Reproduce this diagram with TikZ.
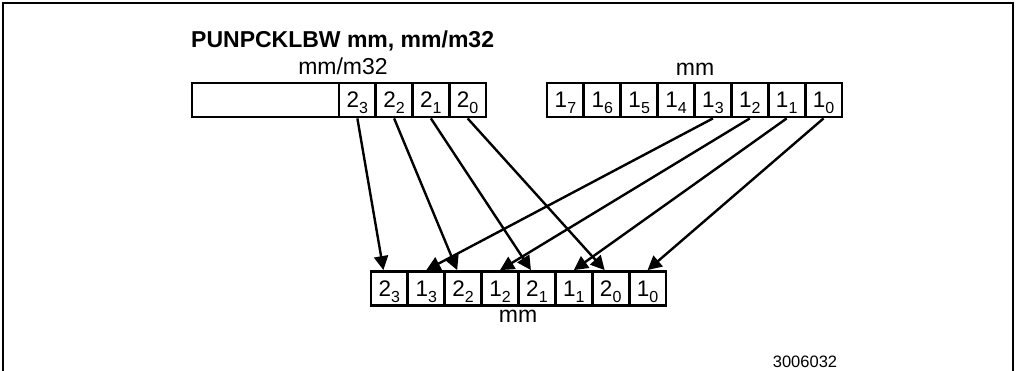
\documentclass[tikz,border=0pt]{standalone}
\usepackage{fontspec}
\setmainfont{Liberation Sans}
\usetikzlibrary{arrows.meta}
\newcommand{\lo}[1]{\raisebox{-6pt}{\fontsize{16}{16}\selectfont#1}}
\tikzset{
  cell/.style={draw,line width=2.8pt,minimum width=36.8pt,minimum height=34pt,
    inner sep=0pt,text height=16pt,text depth=0pt,font=\fontsize{22.5}{22.5}\selectfont},
  lbl/.style={anchor=base,inner sep=0pt,font=\fontsize{23}{23}\selectfont},
  mv/.style={-{Triangle[length=14pt,width=14pt]},line width=2.4pt}
}
\begin{document}
\begin{tikzpicture}[x=1pt,y=-1pt]
\useasboundingbox (0,0) rectangle (1017,371);
\draw[line width=2.8pt] (3,380) -- (3,3) -- (1013,3) -- (1013,380);

\node[lbl,anchor=base west,font=\bfseries\fontsize{23}{23}\selectfont] (title) at (191,48) {PUNPCKLBW mm, mm/m32};

% source mm/m32
\node[lbl] (srclbl) at (343,75) {mm/m32};
\node[cell,minimum width=147pt] (aa) at (265.5,100) {};
\foreach \k [count=\i] in {3,2,1,0}
{
    \node[cell] (a\k) at (339+36.75*\i-18.375,100) {2\lo{\k}};
}

% source mm
\node[lbl] (dstlbl) at (695,76) {mm};
\foreach \k [count=\i] in {7,6,...,0}
{
    \node[cell] (b\k) at (547+36.875*\i-18.44,100) {1\lo{\k}};
}

% result mm
\foreach \r/\k [count=\i] in {2/3,1/3,2/2,1/2,2/1,1/1,2/0,1/0}
{
    \node[cell] (o\r\k) at (371+36.875*\i-18.44,288.5) {\r\lo{\k}};
}
\node[lbl] (reslbl) at (518,322) {mm};

\foreach \k in {3,2,1,0}
{
    \draw[mv] (a\k.south) -- ([xshift=-6pt]o2\k.north);
    \draw[mv] (b\k.south) -- (o1\k.north);
}

\node[lbl,font=\fontsize{16.5}{16.5}\selectfont] (fig) at (805,367) {3006032};
\end{tikzpicture}
\end{document}
